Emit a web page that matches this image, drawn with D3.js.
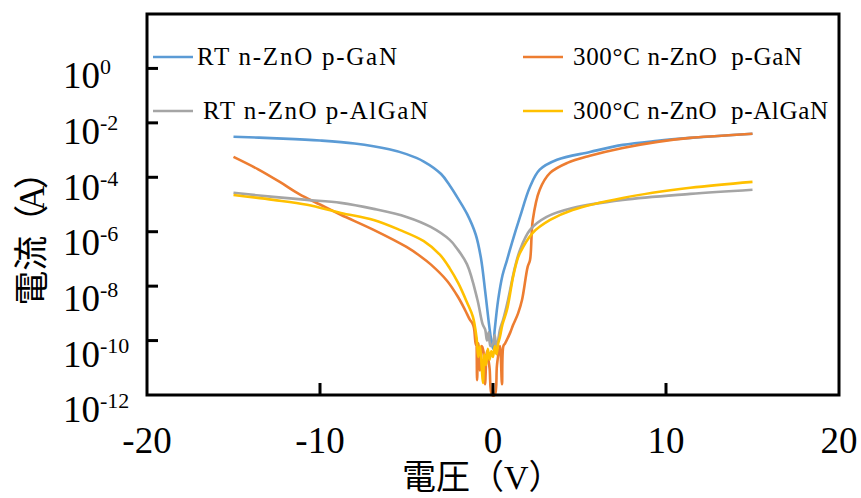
<!DOCTYPE html>
<html>
<head>
<meta charset="utf-8">
<script src="https://cdn.jsdelivr.net/npm/d3@7"></script>
<style>
  html, body { margin: 0; padding: 0; background: #fff; }
  svg { display: block; }
</style>
</head>
<body>
<svg id="chart" width="861" height="498"></svg>
<script>
// ---------- data (voltage in V, current in A) ----------
const seriesNames = ["RT n-ZnO p-GaN", "300°C n-ZnO  p-GaN", "RT n-ZnO p-AlGaN", "300°C n-ZnO  p-AlGaN"];
const seriesColors = ["#5B9BD5", "#ED7D31", "#A5A5A5", "#FFC000"];

const rtGaN_V = [-15,-12.5,-10,-8,-6,-5,-4,-3,-2.5,-2,-1.5,-1,-0.7,-0.45,-0.25,-0.1,0,0.1,0.3,0.55,0.81,1.1,1.56,2.14,2.7,3.7,5.6,7.5,9.5,11.4,13,15];
const rtGaN_I = [3.09e-3,2.69e-3,2.24e-3,1.74e-3,1.07e-3,7.1e-4,3.8e-4,1.32e-4,5.0e-5,1.58e-5,4.5e-6,7.9e-7,1.1e-7,6.3e-9,5.0e-10,1.0e-10,5.0e-11,2.5e-10,3.2e-9,2.5e-8,9.1e-8,4.0e-7,3.5e-6,4.5e-5,1.9e-4,4.4e-4,8.5e-4,1.55e-3,2.19e-3,2.8e-3,3.3e-3,4.0e-3];

const htGaN_V = [-15,-13.6,-12.3,-11.2,-10,-8.8,-6.9,-5,-4.2,-3.6,-2.66,-2.02,-1.62,-1.33,-1.2,-1.1,-1.0,-0.96,-0.92,-0.85,-0.75,-0.65,-0.55,-0.46,-0.35,-0.2,-0.06,0.1,0.23,0.4,0.52,0.6,0.7,1.0,1.16,1.45,1.68,2.0,2.14,2.3,2.7,3.3,4.3,5.6,7.5,9.5,11.4,13,15];
const htGaN_I = [5.62e-4,2.0e-4,6.6e-5,2.4e-5,1.0e-5,4.2e-6,1.17e-6,2.75e-7,1.26e-7,6.3e-8,1.58e-8,3.98e-9,1.35e-9,5.75e-10,4.47e-10,2.9e-10,6.9e-11,1.26e-10,3.5e-12,7.9e-11,7.9e-12,6.3e-11,4.0e-11,2.5e-12,4.0e-11,1.0e-11,1.0e-12,1.0e-12,1.26e-11,6.3e-11,2.5e-12,6.3e-11,7.9e-11,2.0e-10,3.7e-10,1.0e-9,3.16e-9,5.0e-8,9.1e-8,2.7e-6,3.5e-5,1.45e-4,3.4e-4,6.2e-4,1.2e-3,2.0e-3,2.8e-3,3.3e-3,4.0e-3];

const rtAlGaN_V = [-15,-12.7,-10.75,-8.8,-6.9,-5,-3.6,-2.5,-2.1,-1.5,-0.9,-0.6,-0.45,-0.35,-0.25,-0.15,0,0.1,0.2,0.4,0.6,0.87,1.27,1.56,2.14,3.1,4.6,7.5,11.4,15];
const rtAlGaN_I = [2.7e-5,1.9e-5,1.48e-5,1.15e-5,6.9e-6,3.5e-6,1.5e-6,5.0e-7,2.5e-7,6.3e-8,3.16e-9,4.0e-10,2.5e-10,1.0e-10,2.0e-10,6.3e-11,7.9e-11,1.58e-10,5.0e-11,2.5e-10,6.3e-10,3.16e-9,5.0e-8,2.14e-7,1.17e-6,3.5e-6,7.4e-6,1.48e-5,2.45e-5,3.5e-5];

const htAlGaN_V = [-15,-12.7,-10.75,-8.8,-6.9,-5.4,-4,-3.06,-2.5,-2.0,-1.5,-1.16,-0.95,-0.85,-0.75,-0.65,-0.58,-0.5,-0.4,-0.3,-0.2,-0.1,0,0.1,0.2,0.3,0.4,0.55,0.81,1.16,1.4,1.56,2.3,3.3,4.6,7.5,11.4,15];
const htAlGaN_I = [2.24e-5,1.48e-5,9.8e-6,4.9e-6,2.7e-6,1.17e-6,4.5e-7,1.41e-7,4.5e-8,1.26e-8,2.5e-9,7.4e-10,1.26e-10,2.5e-11,6.3e-11,1.0e-11,2.75e-12,3.16e-11,1.26e-11,5.0e-11,2.0e-11,4.0e-11,2.5e-11,6.3e-11,3.16e-11,7.9e-11,1.35e-10,4.0e-10,1.35e-9,2.19e-8,9.1e-8,1.66e-7,9.1e-7,2.7e-6,6.3e-6,1.74e-5,4.1e-5,6.8e-5];

const xTicks = [-20, -10, 0, 10, 20];
const yTickExps = [0, -2, -4, -6, -8, -10, -12];
const xTitleCJK = "電圧", xTitleUnit = "V";
const yTitleCJK = "電流", yTitleUnit = "A";

// ---------- layout ----------
const svg = d3.select("#chart");
const L = 147, R = 839, T = 14, B = 395;
const x = d3.scaleLinear().domain([-20, 20]).range([L, R]);
const y = d3.scaleLog().domain([1e-12, 1e2]).range([B, T]);
const serif = "'Liberation Serif','Times New Roman',serif";
const cjk = "'Noto Sans CJK JP','Noto Sans CJK SC',sans-serif";

// curves
const series = [
  {V: rtGaN_V, I: rtGaN_I, c: 0},
  {V: htGaN_V, I: htGaN_I, c: 1},
  {V: rtAlGaN_V, I: rtAlGaN_I, c: 2},
  {V: htAlGaN_V, I: htAlGaN_I, c: 3}
];
svg.append("clipPath").attr("id", "clip").append("rect")
  .attr("x", L).attr("y", T).attr("width", R - L).attr("height", B - T + 2);
const line = d3.line().x(d => x(d[0])).y(d => y(d[1])).curve(d3.curveCatmullRom.alpha(0.5));
const gLines = svg.append("g").attr("clip-path", "url(#clip)");
series.forEach(s => {
  const pts = s.V.map((v, i) => [v, s.I[i]]);
  gLines.append("path").attr("d", line(pts))
    .attr("fill", "none").attr("stroke", seriesColors[s.c])
    .attr("stroke-width", 2.6).attr("stroke-linejoin", "round");
});

// frame
svg.append("rect").attr("x", L).attr("y", T).attr("width", R - L).attr("height", B - T)
  .attr("fill", "none").attr("stroke", "#000").attr("stroke-width", 3);

// x ticks (inward)
svg.append("g").selectAll("line").data(xTicks.slice(1, -1)).join("line")
  .attr("x1", d => x(d)).attr("x2", d => x(d)).attr("y1", B).attr("y2", B - 12)
  .attr("stroke", "#000").attr("stroke-width", 3);
svg.append("g").selectAll("text").data(xTicks).join("text")
  .attr("x", d => x(d)).attr("y", 453).attr("text-anchor", "middle")
  .attr("font-family", serif).attr("font-size", 37).attr("fill", "#000")
  .text(d => d);

// y ticks (inward)
svg.append("g").selectAll("line").data(yTickExps.slice(0, -1)).join("line")
  .attr("x1", L).attr("x2", L + 11).attr("y1", d => y(Math.pow(10, d))).attr("y2", d => y(Math.pow(10, d)))
  .attr("stroke", "#000").attr("stroke-width", 3);
const yl = svg.append("g").selectAll("text").data(yTickExps).join("text")
  .attr("x", 63).attr("y", (d, i) => y(Math.pow(10, d)) + 20 + 1.2 * i)
  .attr("font-family", serif).attr("font-size", 37).attr("fill", "#000");
yl.append("tspan").text("10");
yl.append("tspan").attr("dy", -14).attr("font-size", 22).text(d => d);

// axis titles
const xt = svg.append("text").attr("x", 402).attr("y", 489).attr("fill", "#000").attr("font-size", 34);
xt.append("tspan").attr("font-family", cjk).text(xTitleCJK);
xt.append("tspan").attr("font-family", cjk).text("（");
xt.append("tspan").attr("font-family", serif).text(xTitleUnit);
xt.append("tspan").attr("font-family", cjk).text("）");

const ytt = svg.append("text").attr("transform", "translate(44,230) rotate(-90)")
  .attr("text-anchor", "middle").attr("fill", "#000").attr("font-size", 35);
ytt.append("tspan").attr("font-family", cjk).text(yTitleCJK);
ytt.append("tspan").attr("font-family", cjk).attr("dx", -4).text("（");
ytt.append("tspan").attr("font-family", serif).attr("dx", -6).text(yTitleUnit);
ytt.append("tspan").attr("font-family", cjk).attr("dx", -4).text("）");

// legend
const legendPos = [
  {lx: 153, tx: 197, y: 57, w: 200},
  {lx: 523, tx: 573, y: 57, w: 229},
  {lx: 153, tx: 203, y: 111, w: 225},
  {lx: 523, tx: 573, y: 111, w: 255}
];
const lg = svg.append("g");
seriesNames.forEach((name, i) => {
  const p = legendPos[i];
  lg.append("line").attr("x1", p.lx).attr("x2", p.lx + 40).attr("y1", p.y).attr("y2", p.y)
    .attr("stroke", seriesColors[i]).attr("stroke-width", 2.6);
  lg.append("text").attr("x", p.tx).attr("y", p.y + 8)
    .attr("font-family", serif).attr("font-size", 25).attr("fill", "#000")
    .attr("xml:space", "preserve").style("white-space", "pre")
    .attr("textLength", p.w).attr("lengthAdjust", "spacing")
    .text(name);
});
</script>
</body>
</html>
